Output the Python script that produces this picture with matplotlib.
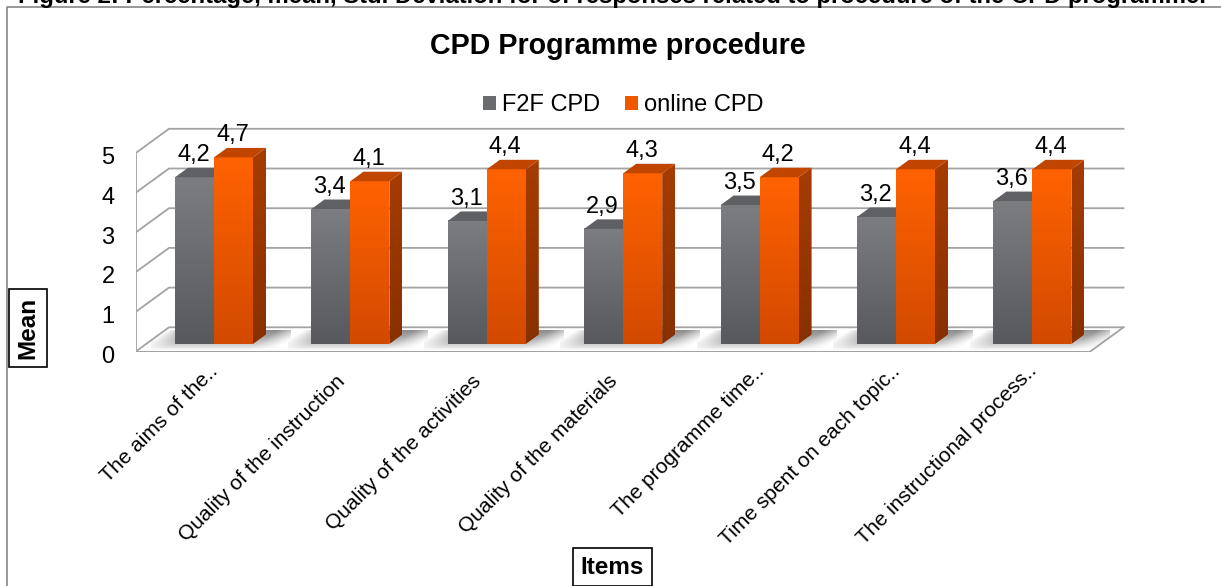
#!/usr/bin/env python3
# coding: utf-8

"""CPD programme procedure: fake 3D grouped bars, F2F against online"""

import matplotlib.pyplot as plt
import numpy as np

from matplotlib.colors import LinearSegmentedColormap
from matplotlib.lines import Line2D
from matplotlib.patches import Patch, Polygon
from matplotlib.transforms import ScaledTranslation

#############
# Constants #
#############

W, H = 1221, 586

items = [
    "The aims of the..",
    "Quality of the instruction",
    "Quality of the activities",
    "Quality of the materials",
    "The programme time..",
    "Time spent on each topic..",
    "The instructional process..",
]
f2f_cpd = [4.2, 3.4, 3.1, 2.9, 3.5, 3.2, 3.6]
online_cpd = [4.7, 4.1, 4.4, 4.3, 4.2, 4.4, 4.4]
mean_ticks = [0, 1, 2, 3, 4, 5]

CAPTION = (
    "Figure 2: Percentage, mean, Std. Deviation for of responses "
    "related to procedure of the CPD programme."
)

# pixels per unit on both scales, and where group 0 sits
PX_X = 136.4
PX_Y = 39.7
X0_PX = 214.0
LEFT_PX, RIGHT_PX = 135.5, 1130.0
BOTTOM_PX, TOP_PX = 351.7, 122.0

# depth of the box and of the bars, in data units
BOX_DX, BOX_DY = 33.5 / PX_X, 24.4 / PX_Y
BAR_DX, BAR_DY = 13.0 / PX_X, 9.5 / PX_Y
BAR_BASE = 7.7 / PX_Y
BAR_W = 39.0 / PX_X
FRONT_RIGHT = (1090.0 - X0_PX) / PX_X

GRID = "#a3a3a3"
GREY = ("#7b7d80", "#58595c", "#5f6064", "#4a4a4c")
ORANGE = ("#ff6200", "#d24a00", "#c04600", "#a63c00", "#883000")

#############
# Functions #
#############


def gradient(ax, x0, x1, y0, y1, top, bottom, clip=None, z=3):
    cmap = LinearSegmentedColormap.from_list("g", [top, bottom])
    im = ax.imshow(
        np.linspace(0, 1, 64).reshape(-1, 1),
        extent=(x0, x1, y0, y1),
        origin="upper",
        aspect="auto",
        cmap=cmap,
        interpolation="bilinear",
        zorder=z,
    )
    if clip is not None:
        im.set_clip_path(Polygon(clip, transform=ax.transData))


def bar3d(ax, left, value, front, side_top, side_bottom, cap, z):
    right = left + BAR_W
    top = BAR_BASE + value
    gradient(ax, left, right, BAR_BASE, top, front[0], front[1], z=z)
    side = [
        (right, BAR_BASE),
        (right + BAR_DX, BAR_BASE + BAR_DY),
        (right + BAR_DX, top + BAR_DY),
        (right, top),
    ]
    gradient(ax, right, right + BAR_DX, BAR_BASE, top + BAR_DY, side_top, side_bottom, side, z)
    ax.add_patch(
        Polygon(
            [
                (left, top),
                (right, top),
                (right + BAR_DX, top + BAR_DY),
                (left + BAR_DX, top + BAR_DY),
            ],
            fc=cap,
            ec="none",
            zorder=z,
        )
    )


def floor_shadow(ax, center, floor):
    x = np.linspace(-1, 1, 120)
    y = np.linspace(0, 1, 40)
    xx, yy = np.meshgrid(x, y)
    fade_x = np.clip((1 - np.abs(xx + 0.45 * (yy - 0.5))) / 0.4, 0, 1)
    fade_y = np.clip(1 - yy, 0, 1) ** 0.7
    rgba = np.zeros((40, 120, 4))
    rgba[..., :3] = 0.5
    rgba[..., 3] = 0.9 * fade_x * fade_y
    im = ax.imshow(
        rgba,
        extent=(center - 0.46, center + 0.56, 0.05, 0.53),
        origin="upper",
        aspect="auto",
        interpolation="bilinear",
        zorder=2,
    )
    im.set_clip_path(Polygon(floor, transform=ax.transData))


def draw_box(ax, x_left, x_right):
    for v in mean_ticks:
        ax.add_line(
            Line2D(
                [x_left, x_left + BOX_DX, x_right + BOX_DX],
                [v, v + BOX_DY, v + BOX_DY],
                color=GRID,
                lw=1.3,
                zorder=1.5,
            )
        )
    ax.add_line(Line2D([x_left, x_left], [0, mean_ticks[-1]], color=GRID, lw=1.3, zorder=1.5))
    ax.add_line(Line2D([x_left, x_right], [0, 0], color=GRID, lw=1.5, zorder=1.5))
    ax.add_line(
        Line2D([x_right, x_right + BOX_DX], [0, BOX_DY], color=GRID, lw=1.3, zorder=1.5)
    )


def nudge(fig, label, dx_px, dy_px):
    shift = ScaledTranslation(dx_px / fig.dpi, dy_px / fig.dpi, fig.dpi_scale_trans)
    label.set_transform(label.get_transform() + shift)


def plot():
    plt.rcParams["font.family"] = ["Liberation Sans", "DejaVu Sans"]
    fig = plt.figure(figsize=(W / 100, H / 100), dpi=100)
    ax = fig.add_axes(
        [
            LEFT_PX / W,
            1 - BOTTOM_PX / H,
            (RIGHT_PX - LEFT_PX) / W,
            (BOTTOM_PX - TOP_PX) / H,
        ]
    )
    x_min = (LEFT_PX - X0_PX) / PX_X
    x_max = (RIGHT_PX - X0_PX) / PX_X
    floor = [
        (x_min, 0),
        (FRONT_RIGHT, 0),
        (FRONT_RIGHT + BOX_DX, BOX_DY),
        (x_min + BOX_DX, BOX_DY),
    ]

    draw_box(ax, x_min, FRONT_RIGHT)

    for i, (a, b) in enumerate(zip(f2f_cpd, online_cpd)):
        floor_shadow(ax, i, floor)
        bar3d(ax, i - BAR_W, a, GREY[:2], GREY[2], GREY[3], GREY[2], 3 + i * 0.01)
        bar3d(ax, i, b, ORANGE[:2], ORANGE[3], ORANGE[4], ORANGE[2], 3.005 + i * 0.01)
        for x, v in ((i - BAR_W / 2, a), (i + BAR_W / 2, b)):
            ax.annotate(
                f"{v:.1f}".replace(".", ","),
                (x, BAR_BASE + v),
                xytext=(-0.7, 16),
                textcoords="offset points",
                ha="center",
                va="center",
                fontsize=17,
                color="black",
                zorder=6,
            )

    ax.set_xlim(x_min, x_max)
    ax.set_ylim(0, (BOTTOM_PX - TOP_PX) / PX_Y)

    for spine in ax.spines.values():
        spine.set_visible(False)
    ax.patch.set_visible(False)
    ax.set_yticks(mean_ticks)
    ax.set_yticklabels([str(v) for v in mean_ticks], fontsize=17)
    ax.tick_params(axis="y", length=0, pad=15)
    ax.set_xticks(np.arange(len(items)) - 0.04)
    ax.set_xticklabels(
        items, rotation=45, ha="right", va="top", rotation_mode="anchor", fontsize=15.1
    )
    ax.tick_params(axis="x", length=0, pad=7)

    # the untruncated names end a little lower along the slant than the ".." ones
    for label in ax.get_xticklabels():
        if not label.get_text().endswith(".."):
            nudge(fig, label, -10, -10)
    for label in ax.get_yticklabels():
        nudge(fig, label, 0, -2.5)

    box = dict(boxstyle="square,pad=0.32", fc="white", ec="black", lw=1.2)
    ax.set_ylabel("Mean", fontsize=17.5, fontweight="bold", bbox=box)
    ax.yaxis.set_label_coords((28 - LEFT_PX) / (RIGHT_PX - LEFT_PX), (BOTTOM_PX - 328) / (BOTTOM_PX - TOP_PX))
    ax.yaxis.label.set_va("center")
    ax.set_xlabel("Items", fontsize=17.5, fontweight="bold", bbox=box)
    ax.xaxis.set_label_coords((612.5 - LEFT_PX) / (RIGHT_PX - LEFT_PX), (BOTTOM_PX - 567) / (BOTTOM_PX - TOP_PX))
    ax.xaxis.label.set_va("center")

    ax.legend(
        handles=[
            Patch(fc="#6a6b6e", ec="none", label="F2F CPD"),
            Patch(fc="#f05800", ec="none", label="online CPD"),
        ],
        loc="center",
        bbox_to_anchor=(623 / W, 1 - 105 / H),
        bbox_transform=fig.transFigure,
        ncol=2,
        frameon=False,
        fontsize=17,
        handlelength=0.55,
        handleheight=0.55,
        handletextpad=0.25,
        columnspacing=1.05,
        borderpad=0,
    )

    fig.text(618 / W, 1 - 46 / H, "CPD Programme procedure", ha="center", va="center",
             fontsize=20.6, fontweight="bold")
    # caption is cut by the top edge of the picture, only its lower part shows
    fig.text(612 / W, 1 - 3 / H, CAPTION, ha="center", va="baseline",
             fontsize=17.2, fontweight="bold")

    fig.add_artist(Line2D([7.5 / W, 7.5 / W, 1], [0, 1 - 6.5 / H, 1 - 6.5 / H], color="#868686", lw=1.2))

    fig.savefig("out.png", dpi=100)


########
# Main #
########

if __name__ == "__main__":
    plot()
